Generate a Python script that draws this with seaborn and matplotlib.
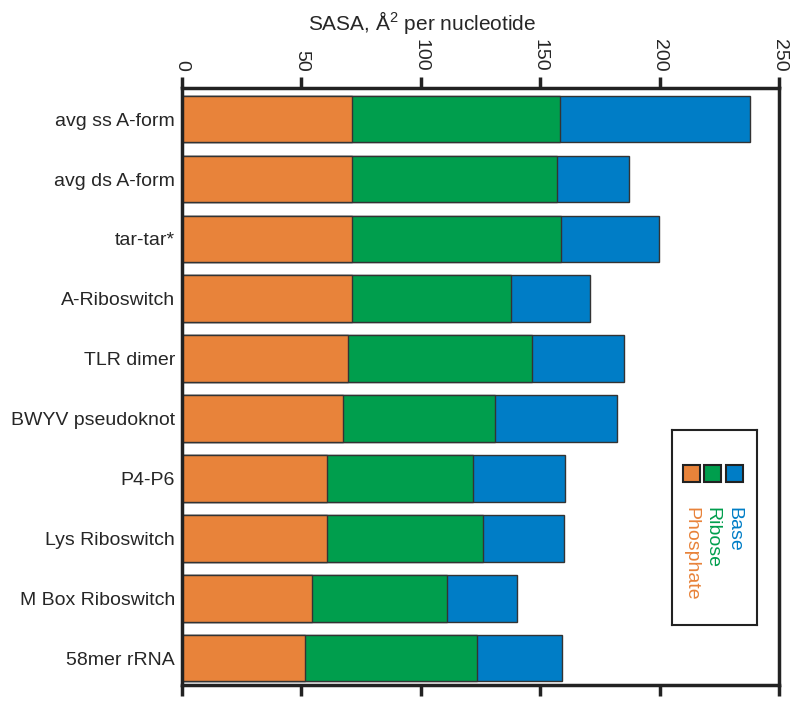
import numpy as np
import pandas as pd
import seaborn as sns
import matplotlib.pyplot as plt

# SASA components per nucleotide (A^2)
structures = ["avg ss A-form", "avg ds A-form", "tar-tar*", "A-Riboswitch", "TLR dimer",
              "BWYV pseudoknot", "P4-P6", "Lys Riboswitch", "M Box Riboswitch", "58mer rRNA"]
phosphate = [71.2, 71.2, 71.2, 71.0, 69.7, 67.5, 60.6, 60.9, 54.4, 51.6]
ribose = [87.2, 85.7, 87.7, 66.9, 76.7, 63.7, 61.4, 65.3, 56.4, 71.8]
base = [79.6, 30.1, 40.7, 33.1, 38.6, 50.8, 38.5, 33.6, 29.4, 35.7]
xticks = [0, 50, 100, 150, 200, 250]

orange = "#E8833A"
green = "#009E4D"
blue = "#007DC6"

sns.set_style("white")
plt.rcParams['font.family'] = ['Liberation Sans', 'DejaVu Sans']
plt.rcParams['mathtext.fontset'] = 'custom'
plt.rcParams['mathtext.rm'] = 'Liberation Sans'
plt.rcParams['mathtext.default'] = 'rm'

df = pd.DataFrame({"structure": structures, "phosphate": phosphate,
                   "ribose": ribose, "base": base})
df["to_ribose"] = df["phosphate"] + df["ribose"]
df["total"] = df["to_ribose"] + df["base"]

fig = plt.figure(figsize=(8, 7.07), dpi=100)
ax = fig.add_axes([182/800, 1-685/707, 597/800, 597/707])

# stacked by overlaying cumulative bars
for col, c in [("total", blue), ("to_ribose", green), ("phosphate", orange)]:
    sns.barplot(data=df, x=col, y="structure", color=c, orient="h", width=0.78,
                edgecolor="#333333", linewidth=1, saturation=1, ax=ax)

ax.set_xlim(0, 250)
ax.set_ylim(9.45, -0.52)
ax.set_xticks(xticks)
ax.set_xlabel("")
ax.set_ylabel("")
ax.tick_params(axis="x", top=True, labeltop=True, bottom=True, labelbottom=False,
               direction="out", length=8, width=2.5, labelrotation=-90, pad=4,
               labelsize=14, color="#222222")
ax.tick_params(axis="y", length=0, pad=5, labelsize=14)
for s in ax.spines.values():
    s.set_visible(True)
    s.set_linewidth(2.5)
    s.set_color("#222222")

fig.text(422/800, 1-22/707, "SASA, Å$^2$ per nucleotide", ha="center", va="center",
         fontsize=15)

# hand-made legend box
lg = fig.add_axes([672/800, 1-625/707, 85/800, 195/707])
lg.set_xlim(0, 1)
lg.set_ylim(0, 1)
lg.set_xticks([])
lg.set_yticks([])
for s in lg.spines.values():
    s.set_linewidth(1.5)
    s.set_color("#222222")
for x0, c in [(0.129, orange), (0.376, green), (0.635, blue)]:
    lg.add_patch(plt.Rectangle((x0, 0.733), 0.2, 0.088, facecolor=c,
                               edgecolor="#222222", linewidth=1.5))
for xc, txt, c in [(0.22, "Phosphate", orange), (0.47, "Ribose", green), (0.73, "Base", blue)]:
    lg.text(xc, 0.605, txt, color=c, rotation=-90, ha="center", va="top", fontsize=14)

plt.savefig("out.png", dpi=100)
